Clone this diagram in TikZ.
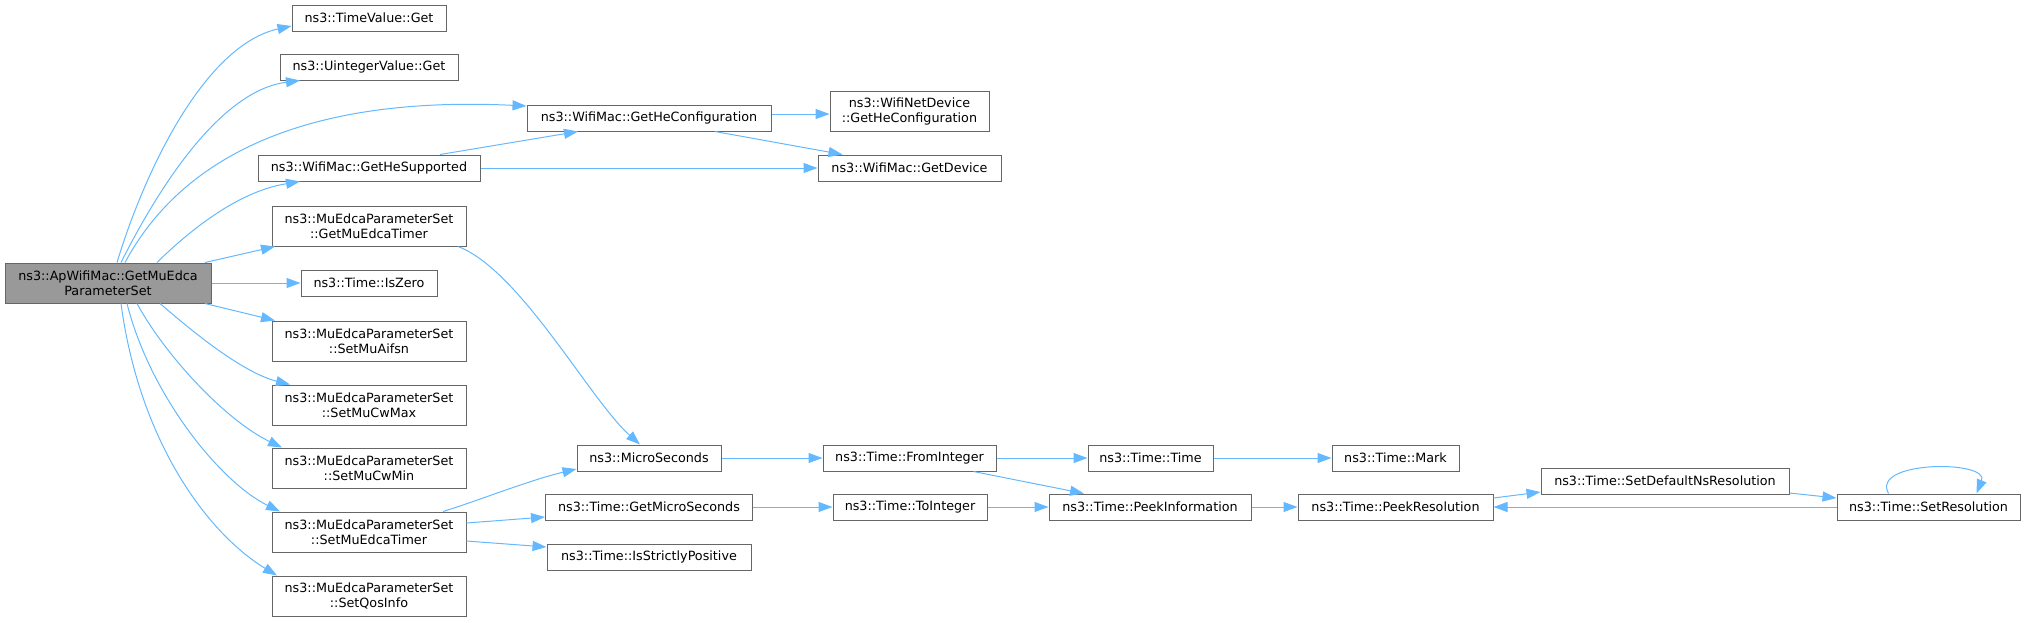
\documentclass[tikz,border=0pt]{standalone}
\usepackage{fontspec}
\setmainfont{DejaVu Sans}
\usetikzlibrary{arrows.meta}
\definecolor{edgeblue}{HTML}{63B8FF}
\definecolor{boxgrey}{HTML}{666666}
\definecolor{mainfill}{HTML}{999999}
\begin{document}
\begin{tikzpicture}[x=1pt,y=-1pt,
  fn/.style={draw=boxgrey, fill=white, line width=1pt, inner sep=0pt, align=center,
    font=\fontsize{12.75}{15}\selectfont, text=black},
  mainnode/.style={fn, fill=mainfill},
  one/.style={minimum height=26pt},
  two/.style={minimum height=40pt},
  e/.style={draw=edgeblue, line width=1pt, -{Triangle[length=14pt,width=10pt]}}]
\useasboundingbox (0,0) rectangle (2025,622);

\node[mainnode, two, minimum width=206pt] (main) at (108,283) {ns3::ApWifiMac::GetMuEdca\\ParameterSet};

\node[fn, one, minimum width=154pt] (tv) at (369,18) {ns3::TimeValue::Get};
\node[fn, one, minimum width=178pt] (uv) at (369,67) {ns3::UintegerValue::Get};
\node[fn, one, minimum width=222pt] (ghs) at (369,168) {ns3::WifiMac::GetHeSupported};
\node[fn, two, minimum width=194pt] (gmt) at (369,226) {ns3::MuEdcaParameterSet\\::GetMuEdcaTimer};
\node[fn, one, minimum width=136pt] (iz) at (369,283) {ns3::Time::IsZero};
\node[fn, two, minimum width=194pt] (aif) at (369,341) {ns3::MuEdcaParameterSet\\::SetMuAifsn};
\node[fn, two, minimum width=194pt] (cwmax) at (369,405) {ns3::MuEdcaParameterSet\\::SetMuCwMax};
\node[fn, two, minimum width=194pt] (cwmin) at (369,468) {ns3::MuEdcaParameterSet\\::SetMuCwMin};
\node[fn, two, minimum width=194pt] (set) at (369,532) {ns3::MuEdcaParameterSet\\::SetMuEdcaTimer};
\node[fn, two, minimum width=194pt] (qos) at (369,596) {ns3::MuEdcaParameterSet\\::SetQosInfo};

\node[fn, one, minimum width=244pt] (ghc) at (649,118) {ns3::WifiMac::GetHeConfiguration};
\node[fn, one, minimum width=144pt] (micro) at (649,458) {ns3::MicroSeconds};
\node[fn, one, minimum width=207pt] (gms) at (649,507) {ns3::Time::GetMicroSeconds};
\node[fn, one, minimum width=204pt] (isp) at (649,557) {ns3::Time::IsStrictlyPositive};

\node[fn, two, minimum width=159pt] (wnd) at (909.5,111) {ns3::WifiNetDevice\\::GetHeConfiguration};
\node[fn, one, minimum width=183pt] (gd) at (909.5,168) {ns3::WifiMac::GetDevice};
\node[fn, one, minimum width=173pt] (fi) at (909.5,458) {ns3::Time::FromInteger};
\node[fn, one, minimum width=154pt] (ti) at (910,507) {ns3::Time::ToInteger};

\node[fn, one, minimum width=125pt] (tt) at (1150.5,458) {ns3::Time::Time};
\node[fn, one, minimum width=202pt] (pi) at (1150,507) {ns3::Time::PeekInformation};
\node[fn, one, minimum width=127pt] (mark) at (1395.5,458) {ns3::Time::Mark};
\node[fn, one, minimum width=195pt] (pr) at (1395.5,507) {ns3::Time::PeekResolution};
\node[fn, one, minimum width=248pt] (sdn) at (1665,481) {ns3::Time::SetDefaultNsResolution};
\node[fn, one, minimum width=183pt] (sr) at (1928.5,507) {ns3::Time::SetResolution};

% edges from main
\draw[e] ([xshift=9pt]main.north) .. controls (145,170) and (205,45) .. ([yshift=-8pt]tv.west);
\draw[e] ([xshift=13pt]main.north) .. controls (165,175) and (225,90) .. ([xshift=-69pt]uv.south);
\draw[e] ([xshift=17pt]main.north) .. controls (180,160) and (300,95) .. ([yshift=12pt]ghc.west);
\draw[e] ([xshift=49pt]main.north) .. controls (185,235) and (235,192) .. ([xshift=-69pt]ghs.south);
\draw[e] ([xshift=97pt]main.north) -- ([xshift=-94pt]gmt.south);
\draw[e] (main.east) -- (iz.west);
\draw[e] ([xshift=97pt]main.south) -- ([xshift=-94pt]aif.north);
\draw[e] ([xshift=52pt]main.south) .. controls (185,325) and (240,372) .. ([xshift=-79pt]cwmax.north);
\draw[e] ([xshift=29pt]main.south) .. controls (165,355) and (225,420) .. ([xshift=-87pt]cwmin.north);
\draw[e] ([xshift=19pt]main.south) .. controls (150,395) and (220,482) .. ([xshift=-89pt]set.north);
\draw[e] ([xshift=13pt]main.south) .. controls (140,445) and (210,535) .. ([xshift=-92pt]qos.north);

% other edges
\draw[e] ([xshift=71pt]ghs.north) -- ([xshift=-71pt]ghc.south);
\draw[e] (ghs.east) -- (gd.west);
\draw[e] ([yshift=4pt]ghc.east) -- ([yshift=-3pt]wnd.west);
\draw[e] ([xshift=66pt]ghc.south) -- ([xshift=-67pt]gd.north);
\draw[e] ([xshift=89pt]gmt.south) .. controls (520,270) and (590,400) .. ([xshift=-9pt]micro.north);
\draw[e] ([xshift=74pt]set.north) .. controls (480,500) and (530,480) .. ([yshift=-11pt]micro.west);
\draw[e] ([yshift=9pt]set.east) -- ([yshift=-10pt]gms.west);
\draw[e] ([yshift=-9pt]set.east) -- ([yshift=10pt]isp.west);
\draw[e] (micro.east) -- (fi.west);
\draw[e] (fi.east) -- (tt.west);
\draw[e] ([xshift=64pt]fi.south) -- ([xshift=-66pt]pi.north);
\draw[e] (tt.east) -- (mark.west);
\draw[e] (gms.east) -- (ti.west);
\draw[e] (ti.east) -- (pi.west);
\draw[e] (pi.east) -- (pr.west);
\draw[e] ([yshift=9pt]pr.east) -- ([yshift=-11pt]sdn.west);
\draw[e] ([yshift=-12pt]sdn.east) -- ([yshift=9pt]sr.west);
\draw[e] (sr.west) -- (pr.east);
\draw[e] ([xshift=-40pt]sr.north) .. controls (1870,460) and (1990,460) .. ([xshift=48pt]sr.north);
\end{tikzpicture}
\end{document}
